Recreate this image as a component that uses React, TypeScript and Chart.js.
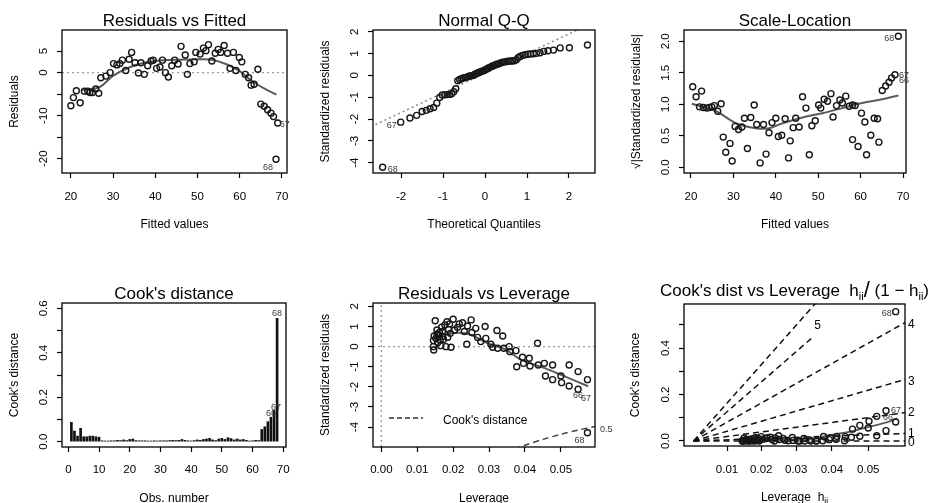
import React, { useEffect, useRef } from "react";
import { Chart, registerables } from "chart.js";
Chart.register(...registerables);

const FONT = '"Liberation Sans", Arial, Helvetica, sans-serif';

// ---------------- Panel 1: Residuals vs Fitted ----------------
const fittedValues = [20.0, 20.6, 21.3, 22.2, 23.2, 24.0, 24.5, 25.1, 25.9, 26.6, 27.1, 28.3, 29.3, 30.1, 30.9, 31.6, 32.2, 33.0, 33.8, 34.4, 35.2, 36.0, 36.6, 37.4, 38.2, 39.0, 39.5, 40.3, 41.1, 41.7, 42.4, 43.1, 43.9, 44.6, 45.4, 46.1, 47.1, 47.6, 48.2, 49.2, 49.6, 50.6, 51.4, 52.0, 52.6, 53.4, 54.2, 54.9, 55.5, 56.3, 57.1, 57.7, 58.5, 59.1, 59.9, 60.5, 61.3, 62.1, 62.7, 63.4, 64.3, 65.0, 65.8, 66.6, 67.4, 68.0, 69.0, 68.6];
const residuals = [-7.7, -5.8, -4.2, -7.0, -4.3, -4.3, -4.6, -4.6, -3.8, -4.8, -1.2, -0.8, 0.0, 2.1, 1.8, 2.1, 2.9, 0.5, 3.1, 4.7, 2.3, -0.1, 2.3, -0.4, 1.6, 2.7, 2.9, 1.0, 1.3, 2.9, 0.0, -1.0, 1.6, 2.9, 2.0, 6.1, 4.1, -0.4, 2.1, 2.5, 4.7, 4.3, 5.7, 5.1, 6.5, 2.7, 4.5, 5.4, 4.7, 6.3, 4.5, 1.0, 4.7, 0.5, 3.5, 2.5, -0.4, -1.2, -2.9, -2.7, 0.8, -7.3, -7.8, -8.6, -9.4, -10.2, -11.7, -20.1];
const rvfSmoothX = [22.4, 26.7, 29.9, 33.8, 37.8, 41.7, 45.7, 50.4, 53.4, 56.7, 59.9, 63.0, 66.2, 68.7];
const rvfSmoothY = [-4.1, -3.4, -0.8, 1.2, 2.4, 2.9, 3.0, 3.1, 3.0, 2.0, 0.4, -2.0, -3.9, -5.1];
const rvfXTicks = [20, 30, 40, 50, 60, 70];
const rvfYTicks = [-20, -15, -10, -5, 0, 5];
const rvfYTickLabels = ["-20", "", "-10", "", "0", "5"];

// ---------------- Panel 2: Normal Q-Q ----------------
const theoQuantiles = [-2.44, -2.01, -1.79, -1.63, -1.50, -1.40, -1.31, -1.225, -1.15, -1.08, -1.02, -0.957, -0.901, -0.847, -0.795, -0.746, -0.698, -0.651, -0.606, -0.563, -0.520, -0.478, -0.437, -0.397, -0.358, -0.319, -0.280, -0.242, -0.204, -0.167, -0.130, -0.092, -0.055, -0.018, 0.018, 0.055, 0.092, 0.130, 0.167, 0.204, 0.242, 0.280, 0.319, 0.358, 0.397, 0.437, 0.478, 0.520, 0.563, 0.606, 0.651, 0.698, 0.746, 0.795, 0.847, 0.901, 0.957, 1.02, 1.08, 1.15, 1.225, 1.31, 1.40, 1.50, 1.63, 1.79, 2.01, 2.44];
const sortedStdRes = [-4.21, -2.14, -1.95, -1.83, -1.65, -1.60, -1.53, -1.47, -1.27, -1.01, -0.90, -0.89, -0.88, -0.87, -0.84, -0.75, -0.61, -0.24, -0.19, -0.15, -0.12, -0.10, -0.08, -0.05, -0.03, -0.01, 0.00, 0.05, 0.08, 0.12, 0.15, 0.18, 0.20, 0.23, 0.27, 0.31, 0.35, 0.38, 0.42, 0.45, 0.48, 0.51, 0.53, 0.56, 0.59, 0.61, 0.62, 0.64, 0.65, 0.66, 0.66, 0.67, 0.72, 0.82, 0.88, 0.92, 0.95, 0.97, 0.98, 0.99, 1.01, 1.04, 1.10, 1.13, 1.16, 1.26, 1.27, 1.39];
const qqLineX = [-2.72, 2.7];
const qqLineY = [-2.35, 2.53];
const qqXTicks = [-2, -1, 0, 1, 2];
const stdYTicks = [-4, -3, -2, -1, 0, 1, 2];

// ---------------- Panel 3: Scale-Location ----------------
const slFitted = [20.4, 21.2, 22.5, 22.0, 22.9, 23.7, 24.3, 24.9, 25.5, 26.3, 27.1, 27.6, 28.2, 29.2, 29.7, 30.4, 31.2, 32.0, 32.6, 33.3, 34.1, 34.9, 35.5, 36.3, 37.1, 37.7, 38.4, 39.1, 40.0, 40.6, 41.4, 42.2, 43.0, 43.4, 44.1, 44.7, 45.5, 46.3, 47.1, 47.9, 48.5, 49.3, 50.1, 50.6, 51.4, 52.2, 53.0, 53.5, 54.3, 55.1, 55.7, 56.5, 57.3, 58.1, 58.7, 58.1, 59.4, 60.2, 61.0, 61.4, 62.4, 63.2, 64.0, 64.3, 65.1, 65.9, 66.7, 67.3, 68.1, 68.9];
const slSqrtAbsRes = [1.28, 1.12, 1.21, 0.96, 0.95, 0.94, 0.95, 0.96, 0.98, 0.89, 1.01, 0.48, 0.24, 0.38, 0.10, 0.65, 0.60, 0.64, 0.78, 0.30, 0.79, 0.99, 0.68, 0.07, 0.68, 0.21, 0.55, 0.71, 0.78, 0.49, 0.51, 0.77, 0.15, 0.42, 0.63, 0.78, 0.64, 1.12, 0.94, 0.20, 0.66, 0.74, 0.99, 0.94, 1.08, 1.05, 1.17, 0.80, 0.98, 1.07, 1.02, 1.13, 0.97, 0.99, 0.98, 0.44, 0.33, 0.86, 0.72, 0.20, 0.51, 0.78, 0.77, 0.40, 1.22, 1.29, 1.35, 1.42, 1.47, 2.08];
const slSmoothX = [20.2, 25.9, 30.6, 35.3, 38.4, 41.6, 46.3, 51.0, 55.7, 60.4, 65.1, 68.9];
const slSmoothY = [1.01, 0.89, 0.70, 0.62, 0.62, 0.70, 0.79, 0.86, 0.94, 1.02, 1.08, 1.14];
const slYTicks = [0, 0.5, 1, 1.5, 2];
const slYTickLabels = ["0.0", "0.5", "1.0", "1.5", "2.0"];

// ---------------- Panel 4: Cook's distance ----------------
const cooksByObs = [0.087, 0.048, 0.025, 0.06, 0.022, 0.022, 0.025, 0.025, 0.022, 0.02,
  0.004, 0.003, 0.003, 0.004, 0.004, 0.006, 0.005, 0.008, 0.005, 0.01,
  0.012, 0.005, 0.004, 0.004, 0.004, 0.003, 0.003, 0.004, 0.003, 0.004,
  0.004, 0.004, 0.005, 0.006, 0.005, 0.006, 0.01, 0.006, 0.004, 0.003,
  0.005, 0.008, 0.006, 0.01, 0.012, 0.015, 0.008, 0.005, 0.012, 0.015,
  0.01, 0.018, 0.014, 0.008, 0.012, 0.008, 0.01, 0.006, 0.003, 0.004,
  0.006, 0.005, 0.055, 0.067, 0.09, 0.11, 0.14, 0.555];
const obsXTicks = [0, 10, 20, 30, 40, 50, 60, 70];
const cookYTicks = [0, 0.1, 0.2, 0.3, 0.4, 0.5, 0.6];
const cookYTickLabels = ["0.0", "", "0.2", "", "0.4", "", "0.6"];

// ---------------- Panel 5: Residuals vs Leverage ----------------
const leverage = [0.0146, 0.0150, 0.0145, 0.0145, 0.0147, 0.0152, 0.0155, 0.0157, 0.0160, 0.0162, 0.0164, 0.0168, 0.0171, 0.0173, 0.0177, 0.0180, 0.0183, 0.0187, 0.0192, 0.0194, 0.0190, 0.0200, 0.0204, 0.0212, 0.0217, 0.0226, 0.0231, 0.0238, 0.0240, 0.0250, 0.0252, 0.0263, 0.0268, 0.0277, 0.0289, 0.0291, 0.0305, 0.0310, 0.0322, 0.0324, 0.0338, 0.0341, 0.0356, 0.0358, 0.0377, 0.0375, 0.0393, 0.0396, 0.0412, 0.0414, 0.0435, 0.0437, 0.0454, 0.0457, 0.0477, 0.0477, 0.0500, 0.0502, 0.0523, 0.0523, 0.0548, 0.0548, 0.0574, 0.0574, 0.0155, 0.0170, 0.0185, 0.0165];
const levStdRes = [-0.17, 1.29, 0.00, 0.30, 0.53, 0.41, 0.83, 0.20, 0.58, 0.70, 0.33, 0.97, 0.50, 0.36, 1.08, 0.00, 1.24, 0.86, 0.66, -0.03, 1.13, 1.36, 0.83, 0.96, 1.13, 1.19, 0.75, 0.12, 1.03, 1.33, 0.70, 0.91, 0.46, 0.25, 1.00, 0.41, 0.12, -0.03, 0.80, -0.08, 0.53, -0.08, 0.00, -0.25, -1.00, -0.20, -0.53, -0.83, -0.58, -0.96, 0.17, -0.91, -0.83, -1.46, -0.91, -1.64, -1.46, -1.79, -0.91, -1.96, -1.24, -2.12, -1.64, -4.28, 0.62, 0.75, 0.47, 0.05];
const rvlSmoothX = [0.0149, 0.0195, 0.0223, 0.0251, 0.0297, 0.0344, 0.0390, 0.0455, 0.0511, 0.0576];
const rvlSmoothY = [0.49, 0.66, 0.69, 0.58, 0.16, -0.13, -0.66, -1.07, -1.48, -1.97];
const cookContourLev = [0.0370, 0.040, 0.045, 0.050, 0.055, 0.0595];
const cookContourRes = [-5.08, -4.90, -4.61, -4.36, -4.14, -3.97];
const levXTicks = [0, 0.01, 0.02, 0.03, 0.04, 0.05];
const levXTickLabels = ["0.00", "0.01", "0.02", "0.03", "0.04", "0.05"];

// ---------------- Panel 6: Cook's dist vs Leverage ----------------
const cooksByLev = [0.0002, 0.0127, 0, 0.0007, 0.0021, 0.0013, 0.0054, 0.0003, 0.0027, 0.004,
  0.0009, 0.008, 0.0022, 0.0011, 0.0105, 0, 0.0143, 0.0071, 0.0043, 0,
  0.0124, 0.0189, 0.0072, 0.01, 0.0142, 0.0164, 0.0066, 0.0002, 0.013, 0.0227,
  0.0063, 0.0112, 0.0029, 0.0009, 0.0149, 0.0025, 0.0002, 0, 0.0107, 0.0001,
  0.0049, 0.0001, 0, 0.0012, 0.0196, 0.0008, 0.0057, 0.0142, 0.0072, 0.0199,
  0.0007, 0.0189, 0.0164, 0.051, 0.0207, 0.0674, 0.056, 0.0847, 0.0228, 0.106,
  0.0446, 0.130, 0.082, 0.557, 0.003, 0.0049, 0.0021, 0];
const cdlSmoothLev = [0.0148, 0.020, 0.025, 0.030, 0.035, 0.0382, 0.045, 0.050, 0.055, 0.0578];
const cdlSmoothCook = [0.004, 0.006, 0.007, 0.006, 0.008, 0.021, 0.040, 0.060, 0.080, 0.098];
const contourNames = ["0", "1", "2", "3", "4", "5", ""];
const contourEndLev = [0.0599, 0.0599, 0.0599, 0.0599, 0.0599, 0.0349, 0.0359];
const contourEndCook = [0, 0.032, 0.122, 0.265, 0.51, 0.45, 0.60];
const cdlLevTicks = [0.01, 0.02, 0.03, 0.04, 0.05];
const cdlLevTickLabels = ["0.01", "0.02", "0.03", "0.04", "0.05"];
const cdlYTicks = [0, 0.1, 0.2, 0.3, 0.4, 0.5];
const cdlYTickLabels = ["0.0", "", "0.2", "", "0.4", ""];

// ---------------- helpers ----------------
const toG = (h: number) => h / (1 - h);
const pts = (xs: number[], ys: number[]) => xs.map((x, i) => ({ x, y: ys[i] }));
const TICK_FONT = { family: FONT, size: 11.5 };
const AXIS_TITLE_FONT = { family: FONT, size: 12 };

function measureWidest(labels: string[], font: string) {
  const c = document.createElement("canvas").getContext("2d")!;
  c.font = font;
  return Math.max(...labels.map((l) => c.measureText(l).width));
}

function pointDs(data: any[]) {
  return {
    type: "scatter",
    data,
    showLine: false,
    pointRadius: 3,
    pointHoverRadius: 3,
    pointBorderWidth: 1.4,
    pointBorderColor: "#161616",
    pointBackgroundColor: "rgba(0,0,0,0)",
  };
}
function lineDs(data: any[], color: string, width: number, dash: number[], tension = 0) {
  return {
    type: "line",
    data,
    borderColor: color,
    borderWidth: width,
    borderDash: dash,
    pointRadius: 0,
    pointHoverRadius: 0,
    fill: false,
    tension,
    showLine: true,
  };
}

function makeOptions(s: any) {
  const tickLen = 5;
  const tickLH = 11.5 * 1.2;
  const titleLH = 17 * 1.2;
  const widest = measureWidest(s.yLabels, `11.5px ${FONT}`);
  const yPad = s.L - tickLen - s.yLabelX - widest / 2;
  const xPad = s.xLabelY - s.B - tickLen - tickLH / 2;
  const tTop = s.titleY - titleLH / 2;
  const tBottom = s.T - titleLH - tTop;
  const grid = {
    display: true,
    drawOnChartArea: false,
    drawTicks: true,
    tickLength: tickLen,
    tickWidth: 1.2,
    tickColor: "#000",
    offset: false,
  };
  return {
    responsive: false,
    animation: false,
    events: [],
    layout: { padding: { left: 0, right: s.W - s.R, top: 0, bottom: 0 } },
    plugins: {
      legend: { display: false },
      tooltip: { enabled: false },
      title: {
        display: true,
        text: s.title,
        fullSize: false,
        color: "#000",
        font: { family: FONT, size: 17, weight: "normal", lineHeight: 1.2 },
        padding: { top: tTop, bottom: tBottom },
      },
    },
    scales: {
      x: {
        type: "linear",
        position: "bottom",
        min: s.xMin,
        max: s.xMax,
        offset: false,
        afterBuildTicks: (a: any) => {
          a.ticks = s.xTicks.map((v: number) => ({ value: v }));
        },
        afterFit: (a: any) => {
          a.height = s.H - s.B;
        },
        grid,
        border: { display: false },
        ticks: {
          autoSkip: false,
          maxRotation: 0,
          minRotation: 0,
          color: "#000",
          font: TICK_FONT,
          padding: xPad,
          callback: (_v: any, i: number) => s.xLabels[i],
        },
        title: {
          display: !!s.xTitle,
          text: s.xTitle || "",
          color: "#000",
          font: AXIS_TITLE_FONT,
          padding: { top: 0, bottom: s.H - (s.xTitleY || 0) - 7.2 },
        },
      },
      y: {
        type: "linear",
        position: "left",
        min: s.yMin,
        max: s.yMax,
        afterBuildTicks: (a: any) => {
          a.ticks = s.yTicks.map((v: number) => ({ value: v }));
        },
        afterFit: (a: any) => {
          a.width = s.L;
        },
        grid,
        border: { display: false },
        ticks: {
          autoSkip: false,
          minRotation: 90,
          maxRotation: 90,
          crossAlign: "center",
          color: "#000",
          font: TICK_FONT,
          padding: yPad,
          callback: (_v: any, i: number) => s.yLabels[i],
        },
        title: {
          display: true,
          text: s.yTitle,
          color: "#000",
          font: AXIS_TITLE_FONT,
          padding: { top: s.yTitleX - 7.2, bottom: 0 },
        },
      },
    },
  };
}

const boxPlugin = {
  id: "rbox",
  afterDatasetsDraw(chart: any) {
    const { ctx, chartArea: a } = chart;
    ctx.save();
    ctx.strokeStyle = "#000";
    ctx.lineWidth = 1.3;
    ctx.strokeRect(a.left, a.top, a.right - a.left, a.bottom - a.top);
    ctx.restore();
  },
};

// labels anchored on data points (value arrays) with pixel offsets
function pointLabelPlugin(items: { text: string; x: number; y: number; dx: number; dy: number; align: string }[]) {
  return {
    id: "plabels",
    afterDraw(chart: any) {
      const { ctx, scales } = chart;
      ctx.save();
      ctx.font = `9px ${FONT}`;
      ctx.fillStyle = "#3a3a3a";
      ctx.textBaseline = "middle";
      for (const it of items) {
        ctx.textAlign = it.align;
        ctx.fillText(it.text, scales.x.getPixelForValue(it.x) + it.dx, scales.y.getPixelForValue(it.y) + it.dy);
      }
      ctx.restore();
    },
  };
}

function drawParts(ctx: any, parts: { t: string; size: number; dy: number }[], cx: number, baseline: number) {
  let total = 0;
  const widths = parts.map((p) => {
    ctx.font = `${p.size}px ${FONT}`;
    const w = ctx.measureText(p.t).width;
    total += w;
    return w;
  });
  let x = cx - total / 2;
  ctx.textAlign = "left";
  ctx.textBaseline = "alphabetic";
  parts.forEach((p, i) => {
    ctx.font = `${p.size}px ${FONT}`;
    ctx.fillText(p.t, x, baseline + p.dy);
    x += widths[i];
  });
}

// ---------------- chart configs ----------------
function cfgResidualsFitted() {
  const s = {
    W: 311, H: 250, L: 62, R: 287, T: 30, B: 173,
    title: "Residuals vs Fitted", titleY: 21,
    xMin: 17.9, xMax: 71.2, xTicks: rvfXTicks, xLabels: rvfXTicks.map(String),
    xLabelY: 197, xTitle: "Fitted values", xTitleY: 225,
    yMin: -23.3, yMax: 9.9, yTicks: rvfYTicks, yLabels: rvfYTickLabels,
    yTitle: "Residuals", yTitleX: 15, yLabelX: 44,
  };
  const n = fittedValues.length;
  return {
    type: "scatter",
    data: {
      datasets: [
        pointDs(pts(fittedValues, residuals)),
        lineDs(pts(rvfSmoothX, rvfSmoothY), "#5a5a5a", 2, [], 0.35),
        lineDs(pts([s.xMin, s.xMax], [0, 0]), "#9a9a9a", 1.3, [2, 3]),
      ],
    },
    options: makeOptions(s),
    plugins: [
      boxPlugin,
      pointLabelPlugin([
        { text: "68", x: fittedValues[n - 1], y: residuals[n - 1], dx: -8, dy: 8, align: "center" },
        { text: "67", x: fittedValues[n - 2], y: residuals[n - 2], dx: 2, dy: 1, align: "left" },
      ]),
    ],
  };
}

function cfgNormalQQ() {
  const s = {
    W: 311, H: 250, L: 62, R: 284, T: 30, B: 173,
    title: "Normal Q-Q", titleY: 21,
    xMin: -2.67, xMax: 2.62, xTicks: qqXTicks, xLabels: qqXTicks.map(String),
    xLabelY: 197, xTitle: "Theoretical Quantiles", xTitleY: 225,
    yMin: -4.47, yMax: 2.08, yTicks: stdYTicks, yLabels: stdYTicks.map(String),
    yTitle: "Standardized residuals", yTitleX: 15, yLabelX: 44,
  };
  return {
    type: "scatter",
    data: {
      datasets: [
        pointDs(pts(theoQuantiles, sortedStdRes)),
        lineDs(pts(qqLineX, qqLineY), "#8a8a8a", 1.5, [2, 3]),
      ],
    },
    options: makeOptions(s),
    plugins: [
      boxPlugin,
      pointLabelPlugin([
        { text: "68", x: theoQuantiles[0], y: sortedStdRes[0], dx: 5, dy: 2, align: "left" },
        { text: "67", x: theoQuantiles[1], y: sortedStdRes[1], dx: -4, dy: 3, align: "right" },
      ]),
    ],
  };
}

function cfgScaleLocation() {
  const s = {
    W: 312, H: 250, L: 62, R: 284, T: 30, B: 173,
    title: "Scale-Location", titleY: 21,
    xMin: 18.35, xMax: 70.7, xTicks: rvfXTicks, xLabels: rvfXTicks.map(String),
    xLabelY: 197, xTitle: "Fitted values", xTitleY: 225,
    yMin: -0.09, yMax: 2.18, yTicks: slYTicks, yLabels: slYTickLabels,
    yTitle: "\u221A|Standardized residuals|", yTitleX: 15, yLabelX: 44,
  };
  const n = slFitted.length;
  return {
    type: "scatter",
    data: {
      datasets: [
        pointDs(pts(slFitted, slSqrtAbsRes)),
        lineDs(pts(slSmoothX, slSmoothY), "#5a5a5a", 2, [], 0.35),
      ],
    },
    options: makeOptions(s),
    plugins: [
      boxPlugin,
      pointLabelPlugin([
        { text: "68", x: slFitted[n - 1], y: slSqrtAbsRes[n - 1], dx: -4, dy: 2, align: "right" },
        { text: "67", x: slFitted[n - 2], y: slSqrtAbsRes[n - 2], dx: 4, dy: 1, align: "left" },
        { text: "66", x: slFitted[n - 2], y: slSqrtAbsRes[n - 2], dx: 4, dy: 6, align: "left" },
      ]),
    ],
  };
}

function cfgCooksDistance() {
  const s = {
    W: 311, H: 253, L: 62, R: 286, T: 53, B: 197,
    title: "Cook's distance", titleY: 44,
    xMin: -2.06, xMax: 70.9, xTicks: obsXTicks, xLabels: obsXTicks.map(String),
    xLabelY: 220, xTitle: "Obs. number", xTitleY: 248.3,
    yMin: -0.024, yMax: 0.624, yTicks: cookYTicks, yLabels: cookYTickLabels,
    yTitle: "Cook's distance", yTitleX: 15, yLabelX: 44,
  };
  const n = cooksByObs.length;
  return {
    type: "bar",
    data: {
      datasets: [
        {
          type: "bar",
          data: cooksByObs.map((v, i) => ({ x: i + 1, y: v })),
          backgroundColor: "#111",
          borderWidth: 0,
          barThickness: 2,
        },
      ],
    },
    options: makeOptions(s),
    plugins: [
      boxPlugin,
      pointLabelPlugin([
        { text: "68", x: n, y: cooksByObs[n - 1], dx: 0, dy: -5, align: "center" },
        { text: "67", x: n - 1, y: cooksByObs[n - 2], dx: 2, dy: -3, align: "center" },
        { text: "66", x: n - 2, y: cooksByObs[n - 3], dx: 0, dy: -4, align: "center" },
      ]),
    ],
  };
}

function cfgResidualsLeverage() {
  const s = {
    W: 311, H: 253, L: 62, R: 284, T: 53, B: 197,
    title: "Residuals vs Leverage", titleY: 44,
    xMin: -0.00232, xMax: 0.0595, xTicks: levXTicks, xLabels: levXTickLabels,
    xLabelY: 220, xTitle: "Leverage", xTitleY: 248.3,
    yMin: -4.99, yMax: 2.17, yTicks: stdYTicks, yLabels: stdYTicks.map(String),
    yTitle: "Standardized residuals", yTitleX: 15, yLabelX: 44,
  };
  const legendPlugin = {
    id: "rlegend",
    afterDraw(chart: any) {
      const { ctx, chartArea: a } = chart;
      const y = a.bottom - 29;
      ctx.save();
      ctx.setLineDash([5, 3]);
      ctx.strokeStyle = "#333";
      ctx.lineWidth = 1.5;
      ctx.beginPath();
      ctx.moveTo(a.left + 16, y);
      ctx.lineTo(a.left + 50, y);
      ctx.stroke();
      ctx.setLineDash([]);
      ctx.font = `12px ${FONT}`;
      ctx.fillStyle = "#000";
      ctx.textBaseline = "middle";
      ctx.textAlign = "left";
      ctx.fillText("Cook's distance", a.left + 70, y + 2.5);
      ctx.restore();
    },
  };
  const m = cookContourLev.length;
  return {
    type: "scatter",
    data: {
      datasets: [
        pointDs(pts(leverage, levStdRes)),
        lineDs(pts(rvlSmoothX, rvlSmoothY), "#5a5a5a", 2, [], 0.35),
        lineDs(pts(cookContourLev, cookContourRes), "#444", 1.5, [6, 4], 0.3),
        lineDs(pts([s.xMin, s.xMax], [0, 0]), "#9a9a9a", 1.3, [2, 3]),
        lineDs(pts([0, 0], [s.yMin, s.yMax]), "#9a9a9a", 1.3, [2, 3]),
      ],
    },
    options: makeOptions(s),
    plugins: [
      boxPlugin,
      legendPlugin,
      pointLabelPlugin([
        { text: "66", x: leverage[61], y: levStdRes[61], dx: 0, dy: 6, align: "center" },
        { text: "67", x: leverage[61], y: levStdRes[61], dx: 8, dy: 9, align: "center" },
        { text: "68", x: leverage[63], y: levStdRes[63], dx: -8, dy: 8, align: "center" },
        { text: "0.5", x: cookContourLev[m - 1], y: cookContourRes[m - 1], dx: 5, dy: 3, align: "left" },
      ]),
    ],
  };
}

function cfgCookLeverage() {
  const s = {
    W: 312, H: 253, L: 62, R: 283, T: 54, B: 196,
    title: " ", titleY: 40,
    xMin: -0.00286, xMax: 0.0637, xTicks: cdlLevTicks.map(toG), xLabels: cdlLevTickLabels,
    xLabelY: 220, xTitle: "", xTitleY: 0,
    yMin: -0.0216, yMax: 0.59, yTicks: cdlYTicks, yLabels: cdlYTickLabels,
    yTitle: "Cook's distance", yTitleX: 13.5, yLabelX: 43.5,
  };
  const contours = contourEndLev.map((h, i) =>
    lineDs([{ x: 0, y: 0 }, { x: toG(h), y: contourEndCook[i] }], "#111", 1.5, [6, 4])
  );
  const extraPlugin = {
    id: "cdlextra",
    afterDraw(chart: any) {
      const { ctx, chartArea: a, scales } = chart;
      ctx.save();
      ctx.fillStyle = "#000";
      // title with sub-scripts
      drawParts(
        ctx,
        [
          { t: "Cook's dist vs Leverage  h", size: 17, dy: 0 },
          { t: "ii", size: 11, dy: 4 },
          { t: "/", size: 22, dy: 1 },
          { t: " (1 \u2212 h", size: 17, dy: 0 },
          { t: "ii", size: 11, dy: 4 },
          { t: ")", size: 17, dy: 0 },
        ],
        (a.left + a.right) / 2,
        46
      );
      // x axis title
      drawParts(
        ctx,
        [
          { t: "Leverage  h", size: 12, dy: 0 },
          { t: "ii", size: 8.5, dy: 3 },
        ],
        (a.left + a.right) / 2,
        251
      );
      // contour labels
      ctx.font = `12px ${FONT}`;
      ctx.textBaseline = "middle";
      contourNames.forEach((name, i) => {
        if (!name) return;
        const px = scales.x.getPixelForValue(toG(contourEndLev[i]));
        const py = scales.y.getPixelForValue(contourEndCook[i]);
        if (px >= a.right - 1) {
          ctx.textAlign = "left";
          ctx.fillText(name, a.right + 3, py + (i === 0 ? 2 : i >= 3 ? 2 : 0));
        } else {
          ctx.textAlign = "center";
          ctx.fillText(name, px + 4, py - 11);
        }
      });
      ctx.restore();
    },
  };
  return {
    type: "scatter",
    data: {
      datasets: [
        pointDs(leverage.map((h, i) => ({ x: toG(h), y: cooksByLev[i] }))),
        lineDs(cdlSmoothLev.map((h, i) => ({ x: toG(h), y: cdlSmoothCook[i] })), "#5a5a5a", 1.8, [], 0.3),
        ...contours,
      ],
    },
    options: makeOptions(s),
    plugins: [
      boxPlugin,
      extraPlugin,
      pointLabelPlugin([
        { text: "68", x: toG(leverage[63]), y: cooksByLev[63], dx: -4, dy: 2, align: "right" },
        { text: "67", x: toG(leverage[61]), y: cooksByLev[61], dx: 5, dy: 0, align: "left" },
        { text: "66", x: toG(leverage[61]), y: cooksByLev[61], dx: 2, dy: 7, align: "center" },
      ]),
    ],
  };
}

const PANELS = [
  { key: "p1", left: 0, top: 0, w: 311, h: 250, make: cfgResidualsFitted },
  { key: "p2", left: 311, top: 0, w: 311, h: 250, make: cfgNormalQQ },
  { key: "p3", left: 622, top: 0, w: 312, h: 250, make: cfgScaleLocation },
  { key: "p4", left: 0, top: 250, w: 311, h: 253, make: cfgCooksDistance },
  { key: "p5", left: 311, top: 250, w: 311, h: 253, make: cfgResidualsLeverage },
  { key: "p6", left: 622, top: 250, w: 312, h: 253, make: cfgCookLeverage },
];

function PanelCanvas({ left, top, w, h, make }: any) {
  const ref = useRef<HTMLCanvasElement>(null);
  useEffect(() => {
    const chart = new Chart(ref.current as any, make() as any);
    return () => chart.destroy();
  }, []);
  return (
    <canvas
      ref={ref}
      width={w}
      height={h}
      style={{ position: "absolute", left, top, width: w, height: h, display: "block" }}
    />
  );
}

export default function App() {
  return (
    <div
      style={{
        position: "absolute",
        left: 0,
        top: 0,
        width: 934,
        height: 503,
        background: "#fff",
        overflow: "hidden",
      }}
    >
      {PANELS.map((p) => (
        <PanelCanvas key={p.key} left={p.left} top={p.top} w={p.w} h={p.h} make={p.make} />
      ))}
    </div>
  );
}
